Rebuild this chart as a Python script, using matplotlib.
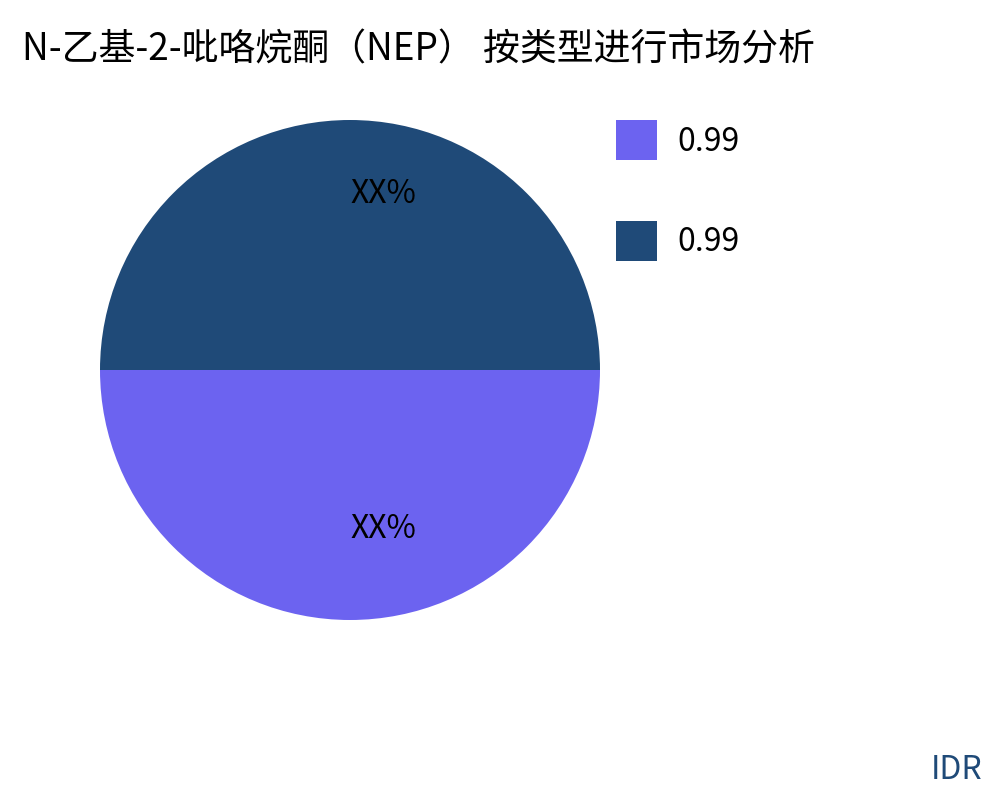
import matplotlib
matplotlib.use('Agg')
import matplotlib.pyplot as plt
from matplotlib.patches import Patch

plt.rcParams['font.family'] = ['Noto Sans CJK SC', 'DejaVu Sans']

# data
title = 'N-乙基-2-吡咯烷酮（NEP） 按类型进行市场分析'
legend_labels = ['0.99', '0.99']
values = [50, 50]
slice_labels = ['XX%', 'XX%']
colors = ['#6c63f0', '#1f4a78']

fig = plt.figure(figsize=(10, 8), dpi=100)
ax = fig.add_axes([0.1, 0.225, 0.5, 0.625])

wedges, texts = ax.pie(values, labels=slice_labels, colors=colors,
                       startangle=180, radius=1, labeldistance=0.67,
                       textprops={'fontsize': 23})
for t in texts:
    t.set_ha('left')
    t.set_va('baseline')
ax.set_xlim(-1, 1)
ax.set_ylim(-1, 1)
ax.set_aspect('equal')

fig.text(0.022, 0.9375, title, fontsize=26.6, va='center', ha='left')

handles = [Patch(facecolor=c, edgecolor='none') for c in colors]
fig.legend(handles, legend_labels, loc='upper left',
           bbox_to_anchor=(0.616, 0.85), frameon=False, fontsize=23,
           handlelength=1.29, handleheight=1.56, labelspacing=1.89,
           handletextpad=0.62, borderpad=0, borderaxespad=0)

fig.text(0.983, 0.037, 'IDR', fontsize=23, color='#1f4a78', ha='right', va='center')

plt.savefig('out.png', dpi=100, facecolor='w')
